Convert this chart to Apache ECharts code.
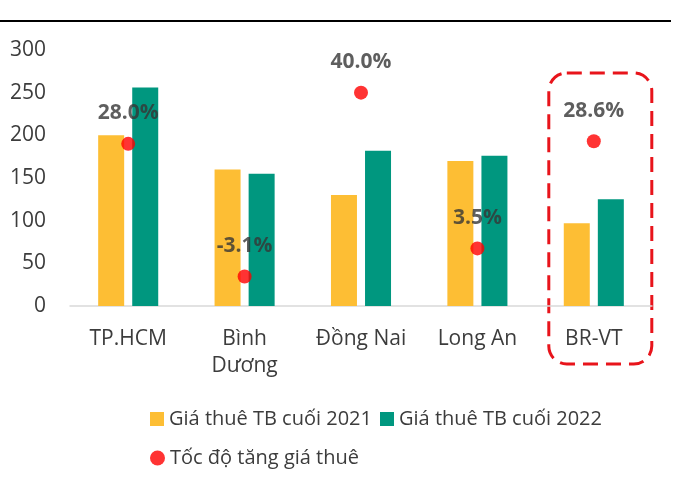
<!DOCTYPE html>
<html>
<head>
<meta charset="utf-8">
<script src="https://cdn.jsdelivr.net/npm/echarts@6/dist/echarts.min.js"></script>
<style>
html,body{margin:0;padding:0;background:#fff;}
#chart{width:690px;height:481px;}
</style>
</head>
<body>
<div id="chart"></div>
<script>
const categories = ['TP.HCM', 'Bình\nDương', 'Đồng Nai', 'Long An', 'BR-VT'];
const rent2021 = [200, 160, 130, 170, 97];
const rent2022 = [256, 155, 182, 176, 125];
const growth = [28.0, -3.1, 40.0, 3.5, 28.6];
const yTicks = [0, 50, 100, 150, 200, 250, 300];
const seriesNames = ['Giá thuê TB cuối 2021', 'Giá thuê TB cuối 2022', 'Tốc độ tăng giá thuê'];

const FONT = '"Open Sans", sans-serif';
const chart = echarts.init(document.getElementById('chart'), null, {renderer: 'canvas'});

const option = {
  animation: false,
  backgroundColor: '#fff',
  grid: {left: 70, right: 38, top: 50, bottom: 175},
  legend: [
    {
      data: [seriesNames[0], seriesNames[1]],
      left: 145, top: 404,
      icon: 'rect', itemWidth: 14, itemHeight: 14, itemGap: 8,
      textStyle: {fontFamily: FONT, fontSize: 20, color: '#3c3c3c'}
    },
    {
      data: [seriesNames[2]],
      left: 145, top: 443,
      icon: 'circle', itemWidth: 15, itemHeight: 15,
      textStyle: {fontFamily: FONT, fontSize: 20, color: '#3c3c3c'}
    }
  ],
  xAxis: {
    type: 'category',
    data: categories,
    axisLine: {lineStyle: {color: '#d9d9d9', width: 1.5}},
    axisTick: {show: false},
    axisLabel: {interval: 0, fontFamily: FONT, fontSize: 21, color: '#3c3c3c', margin: 20, lineHeight: 27}
  },
  yAxis: [
    {
      type: 'value', min: yTicks[0], max: yTicks[yTicks.length - 1], interval: 50,
      axisLine: {show: false}, axisTick: {show: false}, splitLine: {show: false},
      axisLabel: {fontFamily: FONT, fontSize: 21, color: '#3c3c3c', margin: 24}
    },
    {
      type: 'value', min: -10, max: 50, show: false, splitLine: {show: false}
    }
  ],
  series: [
    {
      name: seriesNames[0], type: 'bar', data: rent2021,
      barWidth: 26, barGap: '31%',
      itemStyle: {color: '#FDBE34'}
    },
    {
      name: seriesNames[1], type: 'bar', data: rent2022,
      barWidth: 26,
      itemStyle: {color: '#00977F'}
    },
    {
      name: seriesNames[2], type: 'scatter', yAxisIndex: 1,
      data: growth,
      symbolSize: 14,
      itemStyle: {color: '#FF0000'},
      z: 5,
      label: {
        show: true, position: 'top', distance: 13,
        formatter: p => p.value.toFixed(1) + '%',
        fontFamily: FONT, fontSize: 21, fontWeight: 'bold', color: '#363636'
      }
    }
  ]
};
chart.setOption(option);

// annotations: top rule and dashed highlight around last category
const lastIdx = categories.length - 1;
const cx = chart.convertToPixel({xAxisIndex: 0}, categories[lastIdx]);
chart.setOption({
  graphic: [
    {
      type: 'line', shape: {x1: 0, y1: 21, x2: 671, y2: 21},
      style: {stroke: '#000', lineWidth: 2}
    },
    {
      type: 'rect',
      shape: {x: cx - 45, y: 73, width: 103, height: 291, r: 18},
      style: {fill: 'none', stroke: '#E8141B', lineWidth: 3, lineDash: [15, 8]}
    }
  ]
});
</script>
</body>
</html>
